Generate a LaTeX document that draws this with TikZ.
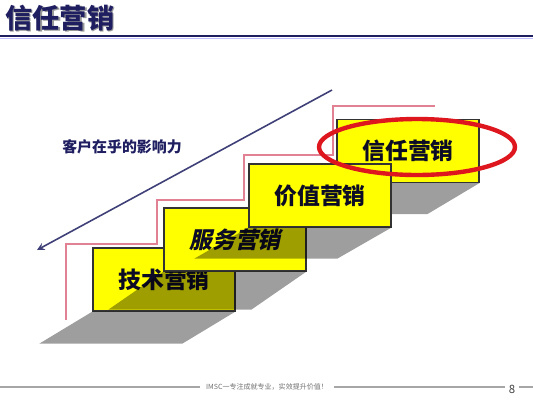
\documentclass[tikz,border=0pt]{standalone}
\usepackage{fontspec}
\setmainfont{Noto Sans CJK SC}
\newfontfamily\slantcjk{Noto Sans CJK SC}[FakeSlant=0.22]
\usepackage{tikz}
\usetikzlibrary{arrows,shapes,calc,positioning}
\definecolor{navy}{RGB}{30,30,96}
\definecolor{stairpink}{RGB}{226,128,148}
\definecolor{ringred}{RGB}{222,22,30}
\definecolor{boxyellow}{RGB}{255,255,0}
\tikzstyle{stepbox}  =[rectangle, draw=black!80, fill=boxyellow,
                       line width=0.6pt, minimum width=2.84cm,
                       minimum height=1.26cm, inner sep=0pt,
                       font=\fontsize{13}{13}\selectfont\bfseries,
                       text=navy!40!black]
\tikzstyle{boxshadow}=[fill=black, fill opacity=0.38]
\tikzstyle{stair}    =[draw=stairpink, line width=0.9pt]
\tikzstyle{influence}=[->, >=stealth, draw=navy!85, line width=0.9pt]
\tikzstyle{ring}     =[ellipse, draw=ringred, line width=2.5pt,
                       minimum width=3.92cm, minimum height=1.12cm,
                       inner sep=0pt]
\tikzstyle{footline} =[draw=black!35, line width=0.8pt]

\begin{document}
\begin{tikzpicture}[x=0.02cm,y=-0.02cm]
    \useasboundingbox[fill=white] (0,0) rectangle (533,400);

    % title bar
    \draw (6.5,19.5) node (titleshadow) [anchor=west, inner sep=0pt, text=black!40,
          font=\fontsize{15.5}{15.5}\selectfont\bfseries] {信任营销};
    \draw (5,18) node (title) [anchor=west, inner sep=0pt, text=navy,
          font=\fontsize{15.5}{15.5}\selectfont\bfseries] {信任营销};
    \draw [navy, line width=1.3pt] (0,36) -- (533,36);
    \draw [blue!25, line width=0.8pt] (0,38.3) -- (533,38.3);

    % pink stairs
    \draw [stair] (66,320) |- (157,244) |- (244,200) |- (333,155) |- (435,106);

    % influence arrow
    \coordinate (arrowtop) at (332,90);
    \coordinate (arrowtip) at (37,250);
    \draw [influence] (arrowtop) to (arrowtip);
    \draw (122,147) node (reach) [text=navy,
          font=\fontsize{8.5}{8.5}\selectfont\bfseries] {客户在乎的影响力};

    % steps
    \draw (408,151) node (trust) [stepbox] {信任营销};
    \fill [boxshadow] (trust.south west) -- (trust.south east)
          -- ++(-52,31) -- ($(trust.south west)+(-52,31)$) -- cycle;

    \draw (164,279.5) node (tech) [stepbox] {技术营销};
    \fill [boxshadow] (tech.south west) -- (tech.south east)
          -- ++(-53,32) -- ($(tech.south west)+(-53,32)$) -- cycle;

    \draw (235,239.5) node (serv) [stepbox, font=\fontsize{13}{13}\selectfont\slantcjk\bfseries] {服务营销};
    \fill [boxshadow] (serv.south west) -- (serv.south east)
          -- ++(-55,38) -- ($(serv.south west)+(-55,38)$) -- cycle;

    \draw (320,195.5) node (value) [stepbox] {价值营销};
    \fill [boxshadow] (value.south west) -- (value.south east)
          -- ++(-54,31) -- ($(value.south west)+(-54,31)$) -- cycle;

    \draw (417,147) node (focus) [ring] {};

    % footer
    \draw (267,387) node (motto) [text=black!55,
          font=\fontsize{4}{4}\selectfont] {IMSC一专注成就专业，实效提升价值！};
    \draw (512,389) node (page) [text=black!75, inner sep=2pt,
          font=\fontsize{6.5}{6.5}\selectfont] {8};
    \draw [footline] (0,387) -- (motto.west);
    \draw [footline] (motto.east) -- (page.west |- motto.east);
    \draw [footline] (page.east |- motto.east) -- (533,387);
\end{tikzpicture}
\end{document}
